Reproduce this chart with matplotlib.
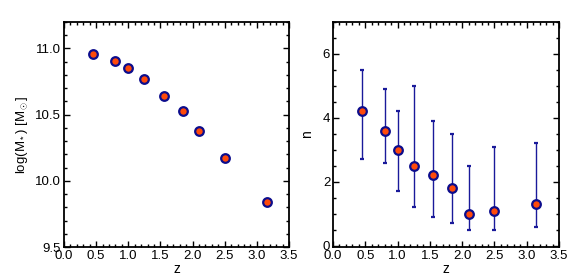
import matplotlib
matplotlib.use("Agg")
import matplotlib.pyplot as plt
from matplotlib.ticker import MultipleLocator

z = [0.45, 0.8, 1.0, 1.25, 1.55, 1.85, 2.1, 2.5, 3.15]
logm = [10.96, 10.905, 10.85, 10.77, 10.64, 10.53, 10.38, 10.17, 9.84]
n = [4.2, 3.6, 3.0, 2.5, 2.2, 1.8, 1.0, 1.1, 1.3]
n_hi = [5.5, 4.9, 4.2, 5.0, 3.9, 3.5, 2.5, 3.1, 3.2]
n_lo = [2.7, 2.6, 1.7, 1.2, 0.9, 0.7, 0.5, 0.5, 0.6]

plt.rcParams['font.family'] = ['Liberation Sans', 'DejaVu Sans']
plt.rcParams['mathtext.fontset'] = 'custom'
plt.rcParams['mathtext.rm'] = 'Liberation Sans'
plt.rcParams['mathtext.it'] = 'Liberation Sans'

face = '#ff4a0a'
edge = '#0c0c8c'
W, H = 581, 280
fig = plt.figure(figsize=(W/100, H/100), dpi=100)
ax1 = fig.add_axes([64/W, 33/H, 225/W, 225/H])
ax2 = fig.add_axes([333/W, 33/H, 226/W, 225/H])

def style(ax):
    for s in ax.spines.values():
        s.set_linewidth(1.3)
    ax.tick_params(which='both', direction='in', top=True, right=True,
                   labelsize=9.5, width=1.0, pad=2)
    ax.tick_params(which='major', length=4)
    ax.tick_params(which='minor', length=2)
    ax.set_xlim(0, 3.5)
    ax.xaxis.set_major_locator(MultipleLocator(0.5))
    ax.xaxis.set_minor_locator(MultipleLocator(0.1))
    ax.xaxis.set_major_formatter(plt.FuncFormatter(lambda v, p: f"{v:.1f}"))
    ax.set_xlabel('z', fontsize=10, labelpad=0)

ax1.plot(z, logm, 'o', ms=6.2, mfc=face, mec=edge, mew=1.6, ls='none')
style(ax1)
ax1.set_ylim(9.5, 11.2)
ax1.yaxis.set_major_locator(MultipleLocator(0.5))
ax1.yaxis.set_minor_locator(MultipleLocator(0.1))
ax1.yaxis.set_major_formatter(plt.FuncFormatter(lambda v, p: f"{v:.1f}"))
ax1.set_ylabel(r'log(M$_*$) [M$_\odot$]', fontsize=9.5, labelpad=4)

yerr = [[a - b for a, b in zip(n, n_lo)], [b - a for a, b in zip(n, n_hi)]]
ax2.errorbar(z, n, yerr=yerr, fmt='o', ms=6.2, mfc=face, mec=edge, mew=1.6,
             ecolor='#1a1a9a', elinewidth=1.0, capsize=1.3, capthick=1.0)
style(ax2)
ax2.set_ylim(-0.04, 7)
ax2.yaxis.set_major_locator(MultipleLocator(2))
ax2.yaxis.set_minor_locator(MultipleLocator(0.5))
ax2.set_ylabel('n', fontsize=10, labelpad=6)

fig.savefig('out.png', dpi=100)
